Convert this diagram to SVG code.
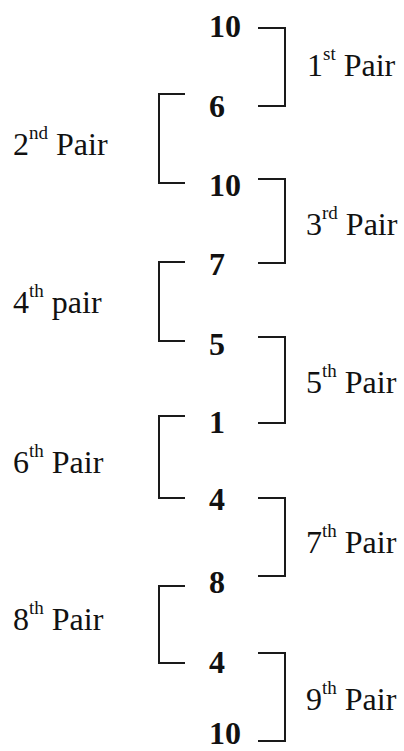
<svg xmlns="http://www.w3.org/2000/svg" width="404" height="751" viewBox="0 0 404 751">
<style>
.num{font-family:"Liberation Serif","Times New Roman",serif;font-weight:bold;font-size:32px;fill:#111}
.lbl{font-family:"Liberation Serif","Times New Roman",serif;font-size:32px;fill:#111}
.sup{font-size:19px}
.br{fill:none;stroke:#1a1a1a;stroke-width:2}
</style>
<rect width="404" height="751" fill="#fff"/>
<g id="numbers">
<g id="n1"><text class="num" x="209" y="37">10</text></g>
<g id="n2"><text class="num" x="209" y="117">6</text></g>
<g id="n3"><text class="num" x="209" y="196">10</text></g>
<g id="n4"><text class="num" x="209" y="275">7</text></g>
<g id="n5"><text class="num" x="209" y="355">5</text></g>
<g id="n6"><text class="num" x="209" y="433">1</text></g>
<g id="n7"><text class="num" x="209" y="510">4</text></g>
<g id="n8"><text class="num" x="209" y="593">8</text></g>
<g id="n9"><text class="num" x="209" y="673">4</text></g>
<g id="n10"><text class="num" x="209" y="744">10</text></g>
</g>
<g id="connectors">
<path class="br" d="M258 28 H285 V106 H258"/>
<path class="br" d="M185 94 H159 V183 H185"/>
<path class="br" d="M258 179 H285 V263 H258"/>
<path class="br" d="M185 262 H159 V341 H185"/>
<path class="br" d="M258 337 H285 V423 H258"/>
<path class="br" d="M185 416 H159 V498 H185"/>
<path class="br" d="M258 498 H285 V576 H258"/>
<path class="br" d="M185 586 H159 V663 H185"/>
<path class="br" d="M258 653 H285 V741 H258"/>
</g>
<g id="labels">
<g id="p1"><text class="lbl" x="307" y="76">1<tspan class="sup" dy="-16">st</tspan><tspan dy="16"> Pair</tspan></text></g>
<g id="p2"><text class="lbl" x="13" y="155">2<tspan class="sup" dy="-16">nd</tspan><tspan dy="16"> Pair</tspan></text></g>
<g id="p3"><text class="lbl" x="306" y="235">3<tspan class="sup" dy="-16">rd</tspan><tspan dy="16"> Pair</tspan></text></g>
<g id="p4"><text class="lbl" x="13" y="313">4<tspan class="sup" dy="-16">th</tspan><tspan dy="16"> pair</tspan></text></g>
<g id="p5"><text class="lbl" x="306" y="393">5<tspan class="sup" dy="-16">th</tspan><tspan dy="16"> Pair</tspan></text></g>
<g id="p6"><text class="lbl" x="13" y="473">6<tspan class="sup" dy="-16">th</tspan><tspan dy="16"> Pair</tspan></text></g>
<g id="p7"><text class="lbl" x="306" y="553">7<tspan class="sup" dy="-16">th</tspan><tspan dy="16"> Pair</tspan></text></g>
<g id="p8"><text class="lbl" x="13" y="630">8<tspan class="sup" dy="-16">th</tspan><tspan dy="16"> Pair</tspan></text></g>
<g id="p9"><text class="lbl" x="306" y="710">9<tspan class="sup" dy="-16">th</tspan><tspan dy="16"> Pair</tspan></text></g>
</g>
</svg>
